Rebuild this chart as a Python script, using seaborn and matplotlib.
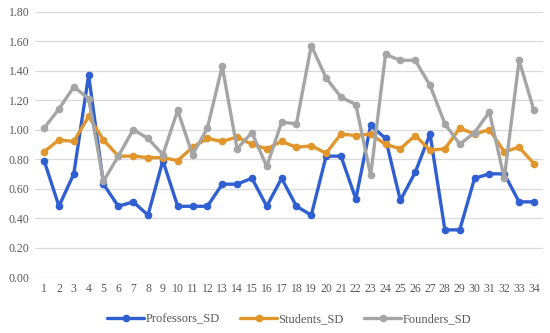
import matplotlib
matplotlib.use("Agg")
import matplotlib.pyplot as plt
import seaborn as sns
import pandas as pd
import numpy as np

items = list(range(1, 35))
professors_sd = [0.79, 0.48, 0.70, 1.37, 0.63, 0.48, 0.51, 0.42, 0.79, 0.48,
                 0.48, 0.48, 0.63, 0.63, 0.67, 0.48, 0.67, 0.48, 0.42, 0.82,
                 0.82, 0.53, 1.03, 0.94, 0.52, 0.71, 0.97, 0.32, 0.32, 0.67,
                 0.70, 0.70, 0.51, 0.51]
students_sd = [0.85, 0.93, 0.92, 1.09, 0.93, 0.82, 0.82, 0.81, 0.81, 0.79,
               0.88, 0.94, 0.92, 0.95, 0.90, 0.87, 0.92, 0.88, 0.89, 0.84,
               0.97, 0.96, 0.97, 0.90, 0.87, 0.96, 0.86, 0.87, 1.01, 0.97,
               1.00, 0.85, 0.88, 0.77]
founders_sd = [1.01, 1.14, 1.29, 1.21, 0.65, 0.82, 1.00, 0.94, 0.83, 1.13,
               0.83, 1.01, 1.43, 0.87, 0.98, 0.75, 1.05, 1.04, 1.57, 1.35,
               1.22, 1.17, 0.69, 1.51, 1.47, 1.47, 1.30, 1.04, 0.90, 0.98,
               1.12, 0.67, 1.47, 1.13]
series_names = ["Professors_SD", "Students_SD", "Founders_SD"]
colors = ["#2F5FD0", "#E0962A", "#A5A5A5"]

df = pd.DataFrame({
    "item": items * 3,
    "value": professors_sd + students_sd + founders_sd,
    "series": sum([[n] * len(items) for n in series_names], []),
})

sns.set_theme(style="white")
plt.rcParams["font.family"] = ["Liberation Serif", "DejaVu Serif"]

fig, ax = plt.subplots(figsize=(5.5, 3.33), dpi=100)
fig.subplots_adjust(left=0.064, right=0.987, top=0.965, bottom=0.168)

sns.lineplot(data=df, x="item", y="value", hue="series", hue_order=series_names,
             palette=colors, marker="o", markersize=5.5, markeredgewidth=0,
             linewidth=2.4, ax=ax, legend=True)

ax.set_ylim(0, 1.8)
ax.set_yticks(np.arange(0, 1.81, 0.2))
ax.set_yticklabels([f"{v:.2f}" for v in np.arange(0, 1.81, 0.2)])
ax.set_xlim(0.4, 34.6)
ax.set_xticks(items)
ax.set_xticklabels([str(i) for i in items])
ax.tick_params(axis="both", labelsize=8.5, colors="#595959", length=0, pad=4)
ax.yaxis.grid(True, color="#D9D9D9", linewidth=0.9)
ax.xaxis.grid(False)
for s in ax.spines.values():
    s.set_visible(False)
ax.set_xlabel("")
ax.set_ylabel("")

leg = ax.legend(loc="upper center", bbox_to_anchor=(0.5, -0.095), ncol=3,
                frameon=False, fontsize=9, handlelength=3.0,
                handletextpad=0.1, columnspacing=1.6)
for t in leg.get_texts():
    t.set_color("#595959")

fig.savefig("out.png", dpi=100)
